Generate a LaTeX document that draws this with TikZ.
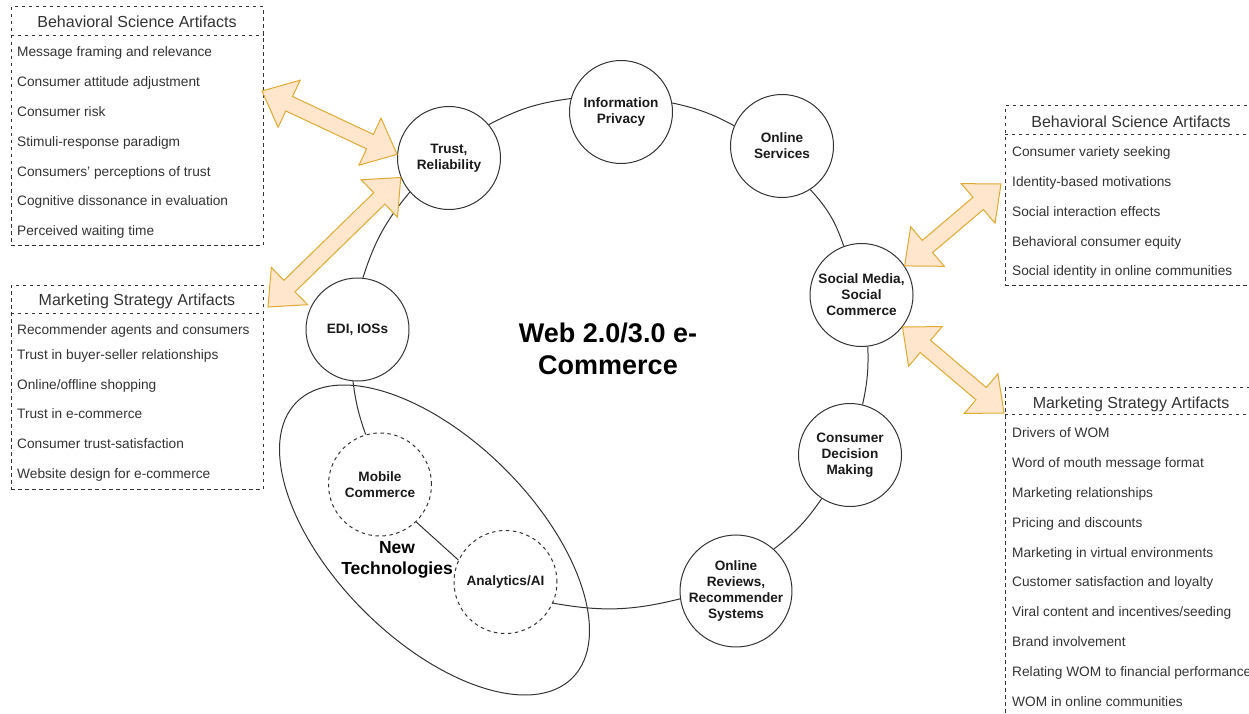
\documentclass[tikz,border=0pt]{standalone}
\usepackage{fontspec}
\setmainfont{Liberation Sans}
\usetikzlibrary{shapes.geometric,calc}

\definecolor{linegray}{HTML}{333333}
\definecolor{textgray}{HTML}{333333}
\definecolor{labelgray}{HTML}{1A1A1A}
\definecolor{arrfill}{HTML}{FFE6CC}
\definecolor{arrline}{RGB}{224,170,50}

\tikzset{
  topic/.style={circle, draw=linegray, line width=1pt, minimum size=103pt, inner sep=0pt, align=center, text=labelgray, font=\bfseries\fontsize{13.6}{16}\selectfont},
  newtopic/.style={topic, dash pattern=on 3.5pt off 3.5pt},
  boxline/.style={draw=linegray, line width=1pt, dash pattern=on 3.5pt off 3.5pt},
  listbox/.style={boxline, minimum width=252pt, inner sep=0pt},
  listhead/.style={inner sep=0pt, text=textgray, text height=11.5pt, text depth=0pt, font=\fontsize{16}{19}\selectfont},
  listitem/.style={anchor=west, inner sep=0pt, text=textgray, text height=9.8pt, text depth=0pt, font=\fontsize{13.7}{16}\selectfont},
  link/.style={draw=linegray, line width=1pt},
  flexarr/.style={fill=arrfill, draw=arrline, line width=1pt, line join=miter},
}

% block arrow with a head at both ends
\newcommand{\flexarrow}[2]{%
  \draw[flexarr] (#1)
    -- ($(#1)!30pt!(#2)!26pt!90:(#2)$) -- ($(#1)!30pt!(#2)!8pt!90:(#2)$)
    -- ($(#2)!30pt!(#1)!8pt!-90:(#1)$) -- ($(#2)!30pt!(#1)!26pt!-90:(#1)$)
    -- (#2)
    -- ($(#2)!30pt!(#1)!26pt!90:(#1)$) -- ($(#2)!30pt!(#1)!8pt!90:(#1)$)
    -- ($(#1)!30pt!(#2)!8pt!-90:(#2)$) -- ($(#1)!30pt!(#2)!26pt!-90:(#2)$)
    -- cycle;}

\begin{document}
\begin{tikzpicture}[x=1pt,y=-1pt]
\useasboundingbox (0,0) rectangle (1249,714);
\clip (0,0) rectangle (1249,714);

% artifact lists
\node[listbox, minimum height=238pt] (bsA) at (137,126) {};
\draw[boxline] ([yshift=-29pt]bsA.north west) -- ([yshift=-29pt]bsA.north east);
\node[listhead] (bsA-head) at (137,22) {Behavioral Science Artifacts};
\foreach \t [count=\i from 0] in {Message framing and relevance, Consumer attitude adjustment, Consumer risk, Stimuli-response paradigm, Consumers' perceptions of trust, Cognitive dissonance in evaluation, Perceived waiting time}
  \node[listitem] (bsA-\i) at (17,{52+29.8*\i}) {\t};

\node[listbox, minimum height=204pt] (msA) at (137,387) {};
\draw[boxline] ([yshift=-29pt]msA.north west) -- ([yshift=-29pt]msA.north east);
\node[listhead] (msA-head) at (137,300) {Marketing Strategy Artifacts};
\foreach \y/\t [count=\i] in {330/{Recommender agents and consumers}, 355/{Trust in buyer-seller relationships}, 385/{Online/offline shopping}, 414/{Trust in e-commerce}, 444/{Consumer trust-satisfaction}, 474/{Website design for e-commerce}}
  \node[listitem] (msA-\i) at (17,\y) {\t};

\node[listbox, minimum height=179pt] (bsB) at (1131,195.5) {};
\draw[boxline] ([yshift=-29pt]bsB.north west) -- ([yshift=-29pt]bsB.north east);
\node[listhead] (bsB-head) at (1131,122) {Behavioral Science Artifacts};
\foreach \t [count=\i from 0] in {Consumer variety seeking, Identity-based motivations, Social interaction effects, Behavioral consumer equity, Social identity in online communities}
  \node[listitem] (bsB-\i) at (1012,{152+29.7*\i}) {\t};

\node[listbox, minimum height=329pt] (msB) at (1131,551.5) {};
\draw[boxline] ([yshift=-28pt]msB.north west) -- ([yshift=-28pt]msB.north east);
\node[listhead] (msB-head) at (1131,403) {Marketing Strategy Artifacts};
\foreach \t [count=\i from 0] in {Drivers of WOM, Word of mouth message format, Marketing relationships, Pricing and discounts, Marketing in virtual environments, Customer satisfaction and loyalty, Viral content and incentives/seeding, Brand involvement, Relating WOM to financial performance, WOM in online communities}
  \node[listitem] (msB-\i) at (1012,{433+29.8*\i}) {\t};

% the ring of topics
\node[draw=linegray, line width=1pt, ellipse, minimum width=390pt, minimum height=200pt, inner sep=0pt, rotate=-45] (newtech) at (434.5,540) {};
\node[font=\bfseries\fontsize{17.5}{21.5}\selectfont, align=center, inner sep=0pt] (newtech-label) at (397,560) {New\\Technologies};
\node[font=\bfseries\fontsize{27}{32}\selectfont, align=center, inner sep=0pt] (web) at (608,349) {Web 2.0/3.0 e-\\Commerce};

\node[topic] (trust) at (449,158) {Trust,\\Reliability};
\node[topic] (info) at (621,112) {Information\\Privacy};
\node[topic] (serv) at (782,146) {Online\\Services};
\node[topic] (social) at (861.5,295) {Social Media,\\Social\\Commerce};
\node[topic] (cdm) at (850,455) {Consumer\\Decision\\Making};
\node[topic] (reviews) at (736,591) {Online\\Reviews,\\Recommender\\Systems};
\node[topic] (edi) at (357.5,329.5) {EDI, IOSs};
\node[newtopic] (mobile) at (380,484.5) {Mobile\\Commerce};
\node[newtopic] (analytics) at (505.5,582) {Analytics/AI};

\draw[link] (trust.40) to[bend left=10] (info.165);
\draw[link] (info.10) to[bend left=8] (serv.157);
\draw[link] (serv.-57) to[bend left=12] (social.110);
\draw[link] (social.-83) to[bend left=7] (cdm.76);
\draw[link] (cdm.-123) to[bend left=9] (reviews.48);
\draw[link] (reviews.188) to[bend left=12] (analytics.-24);
\draw[link] (analytics.155) to (mobile.-46);
\draw[link] (mobile.106) to[bend left=6] (edi.-95);
\draw[link] (edi.84) to[bend left=11] (trust.221);

% arrows to the lists
\coordinate (bsA-tip) at (262,91);
\coordinate (msA-tip) at (268,307);
\coordinate (bsB-tip) at (1001,184);
\coordinate (msB-tip) at (1004,413);
\flexarrow{bsA-tip}{trust.176}
\flexarrow{trust.202}{msA-tip}
\flexarrow{social.34}{bsB-tip}
\flexarrow{social.-38}{msB-tip}
\end{tikzpicture}
\end{document}
